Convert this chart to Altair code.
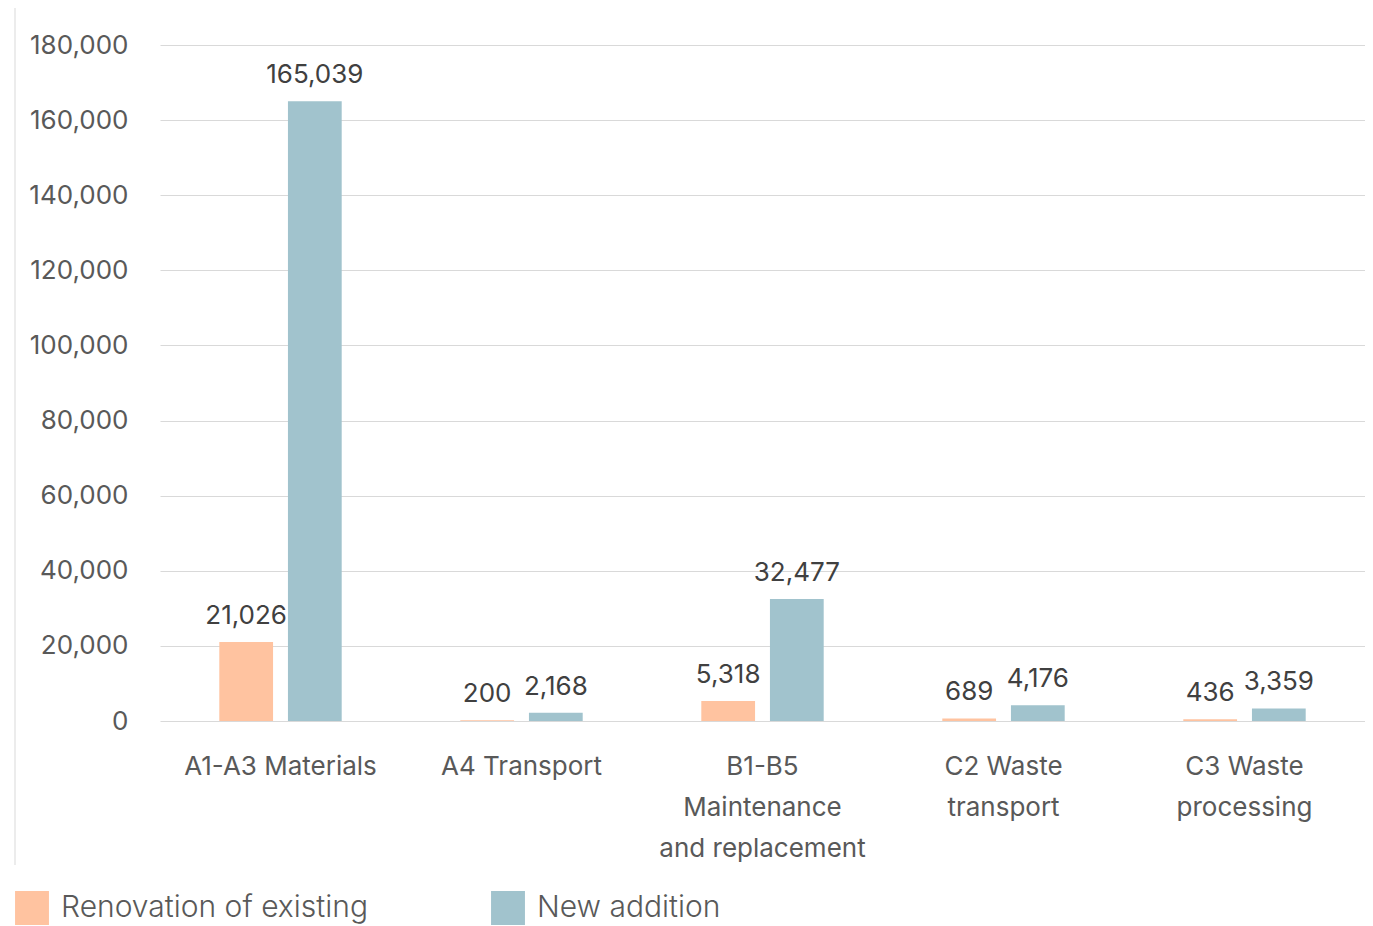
import altair as alt
import pandas as pd

categories = ["A1-A3 Materials", "A4 Transport", "B1-B5|Maintenance|and replacement",
              "C2 Waste|transport", "C3 Waste|processing"]
series = ["Renovation of existing", "New addition"]
renovation = [21026, 200, 5318, 689, 436]
new_addition = [165039, 2168, 32477, 4176, 3359]
colors = ["#FFC3A0", "#A1C3CD"]
y_ticks = [0, 20000, 40000, 60000, 80000, 100000, 120000, 140000, 160000, 180000]

rows = []
for c, r, n in zip(categories, renovation, new_addition):
    rows.append({"cat": c, "series": series[0], "value": r})
    rows.append({"cat": c, "series": series[1], "value": n})
df = pd.DataFrame(rows)

FONT = "Inter"

x = alt.X("cat:N", sort=categories, title=None,
          scale=alt.Scale(paddingInner=0.43, paddingOuter=0.215),
          axis=alt.Axis(labelAngle=0, labelExpr="split(datum.label, '|')",
                        labelFontSize=26, labelColor="#595959", labelFont=FONT,
                        labelPadding=32, labelLineHeight=41, labelLimit=400,
                        domain=False, ticks=False, grid=False, labelBaseline="top"))
xo = alt.XOffset("series:N", sort=series,
                 scale=alt.Scale(paddingInner=0.217, paddingOuter=0.109))
y = alt.Y("value:Q", title=None,
          scale=alt.Scale(domain=[0, 180000], nice=False),
          axis=alt.Axis(values=y_ticks, labelExpr="format(datum.value, ',')",
                        labelFontSize=26, labelColor="#595959",
                        labelFont=FONT, labelPadding=32, domain=False, ticks=False,
                        grid=True, gridColor="#D9D9D9", gridWidth=1))

bars = alt.Chart(df).mark_bar().encode(
    x=x, xOffset=xo, y=y,
    color=alt.Color("series:N", sort=series, title=None,
                    scale=alt.Scale(domain=series, range=colors),
                    legend=alt.Legend(orient="none", legendX=-145, legendY=846,
                                      direction="horizontal", columns=2,
                                      symbolType="square", symbolSize=1150,
                                      symbolStrokeWidth=0, labelFontSize=30,
                                      labelFont=FONT, labelFontWeight=300,
                                      labelColor="#595959", labelOffset=12,
                                      columnPadding=123, labelLimit=500)),
)

labels = alt.Chart(df).mark_text(baseline="middle", dy=-26, fontSize=26,
                                  font=FONT, color="#404040").encode(
    x=x, xOffset=xo, y=y, text=alt.Text("value:Q", format=","),
)

border = alt.Chart(pd.DataFrame({"a": [0]})).mark_rule(color="#D9D9D9", strokeWidth=1).encode(
    x=alt.value(-145), y=alt.value(-45), y2=alt.value(820)
)

chart = alt.layer(border, bars, labels).properties(
    width=1205, height=676,
    autosize=alt.AutoSizeParams(type="none"),
    padding={"left": 152, "top": 37, "right": 0, "bottom": 204},
).configure_view(stroke=None)

chart.save("out.html", embed_options={"renderer": "svg", "actions": False})
